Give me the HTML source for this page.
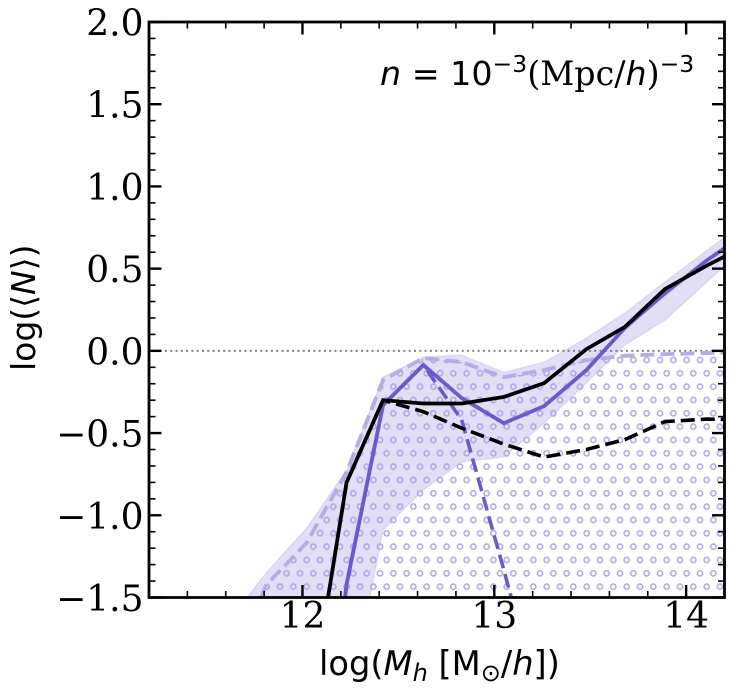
<!DOCTYPE html>
<html lang="en">
<head>
<meta charset="utf-8">
<title>Halo occupation chart</title>
<style>
html,body{margin:0;padding:0;background:#fff;width:732px;height:693px;overflow:hidden}
svg{display:block}
.tick{font-family:"DejaVu Serif","Liberation Serif",serif;font-size:36px;fill:#000}
.lab{font-family:"DejaVu Sans","Liberation Sans",sans-serif;font-size:33.7px;fill:#000}
.ann{font-family:"DejaVu Sans","Liberation Sans",sans-serif;font-size:33.3px;fill:#000}
.ser{font-family:"DejaVu Serif","Liberation Serif",serif}
</style>
</head>
<body>
<svg id="chart" xmlns="http://www.w3.org/2000/svg" width="732" height="693" viewBox="0 0 732 693">
  <defs>
    <clipPath id="axes-clip"><rect x="149" y="22" width="575.5" height="575.5"/></clipPath>
    <pattern id="circle-hatch" patternUnits="userSpaceOnUse" x="260" y="580" width="13.333" height="26.667">
      <circle cx="6.667" cy="6.667" r="2.6" fill="none" stroke="#b0a6e6" stroke-width="1.6"/>
      <circle cx="13.333" cy="20" r="2.6" fill="none" stroke="#b0a6e6" stroke-width="1.6"/>
      <circle cx="0" cy="20" r="2.6" fill="none" stroke="#b0a6e6" stroke-width="1.6"/>
    </pattern>
  </defs>
  <g id="plot" clip-path="url(#axes-clip)"></g>
  <g id="frame"></g>
  <text class="lab" id="x-title" x="319" y="675">log(<tspan font-style="italic">M</tspan><tspan font-style="italic" font-size="24" dy="6">h</tspan><tspan dy="-6"> [M</tspan><tspan font-size="24" dy="6">⊙</tspan><tspan dy="-6">/</tspan><tspan font-style="italic">h</tspan>])</text>
  <text class="lab" id="y-title" transform="translate(35,371) rotate(-90)" style="font-size:33px">log(⟨<tspan font-style="italic">N</tspan>⟩)</text>
  <text class="ann" id="density-note" x="380" y="85"><tspan font-style="italic">n</tspan> = 10<tspan font-size="23.5" dy="-13">−3</tspan><tspan class="ser" dy="13">(Mpc/</tspan><tspan font-style="italic">h</tspan><tspan class="ser">)</tspan><tspan font-size="23.5" dy="-13">−3</tspan></text>
</svg>
<script>
const massBins = [11.6, 11.81, 12.02, 12.23, 12.42, 12.63, 12.83, 13.05, 13.26, 13.48, 13.68, 13.89, 14.11, 14.32];
const blackTotal = [null, null, -2.32, -0.80, -0.30, -0.32, -0.32, -0.28, -0.196, 0.01, 0.145, 0.376, 0.52, 0.645];
const blackCentral = [null, null, -2.32, -0.80, -0.30, -0.37, -0.47, -0.567, -0.646, -0.60, -0.54, -0.43, -0.415, -0.42];
const purpleTotal = [null, null, -3.5, -1.42, -0.33, -0.086, -0.287, -0.44, -0.336, -0.117, 0.139, 0.35, 0.552, 0.72];
const purpleCentral = [null, null, -3.5, -1.42, -0.33, -0.086, -0.42, -1.333, -2.25, -5, null, null, null, null];
const lightDashed = [-2.04, -1.425, -1.17, -0.737, -0.178, -0.044, -0.068, -0.16, -0.117, -0.056, -0.03, -0.02, -0.013, -0.007];
const bandUpper = [-1.67, -1.35, -1.08, -0.725, -0.16, -0.038, -0.025, -0.13, -0.068, 0.078, 0.23, 0.42, 0.613, 0.796];
const bandLower = [-4, -4, -3.5, -2.23, -1.09, -0.847, -0.676, -0.646, -0.44, -0.196, 0.035, 0.187, 0.42, 0.644];
const zeroLine = [0];
const xMajorTicks = [12, 13, 14];
const xTickLabels = ["12", "13", "14"];
const yMajorTicks = [-1.5, -1, -0.5, 0, 0.5, 1, 1.5, 2];
const yTickLabels = ["−1.5", "−1.0", "−0.5", "0.0", "0.5", "1.0", "1.5", "2.0"];
const xLimits = [11.2, 14.2];
const yLimits = [-1.5, 2];

const NS = "http://www.w3.org/2000/svg";
const left = 149, right = 724.5, top_ = 22, bottom = 597.5;
function xScale(v) { return left + (v - xLimits[0]) / (xLimits[1] - xLimits[0]) * (right - left); }
function yScale(v) { return bottom - (v - yLimits[0]) / (yLimits[1] - yLimits[0]) * (bottom - top_); }
function make(tag, attrs) {
  const el = document.createElementNS(NS, tag);
  for (const k in attrs) el.setAttribute(k, attrs[k]);
  return el;
}
function pixelPoints(xs, ys) {
  const out = [];
  for (let i = 0; i < xs.length; i++) {
    if (ys[i] !== null) out.push([xScale(xs[i]), yScale(ys[i])]);
  }
  return out;
}
function fmt(pts) {
  return pts.map(function (p) { return p[0].toFixed(2) + "," + p[1].toFixed(2); }).join(" ");
}
/* Clip an open polyline to the axes box (Liang-Barsky per segment) */
function clipLine(pts) {
  const out = [];
  for (let i = 0; i < pts.length - 1; i++) {
    const a = pts[i], b = pts[i + 1];
    const dx = b[0] - a[0], dy = b[1] - a[1];
    let t0 = 0, t1 = 1, ok = true;
    const tests = [[-dx, a[0] - left], [dx, right - a[0]], [-dy, a[1] - top_], [dy, bottom - a[1]]];
    tests.forEach(function (t) {
      if (t[0] === 0) { if (t[1] < 0) ok = false; return; }
      const r = t[1] / t[0];
      if (t[0] < 0) { if (r > t0) t0 = r; } else { if (r < t1) t1 = r; }
    });
    if (!ok || t0 > t1) continue;
    const p = [a[0] + t0 * dx, a[1] + t0 * dy], q = [a[0] + t1 * dx, a[1] + t1 * dy];
    if (!out.length) out.push(p);
    out.push(q);
  }
  return out;
}
/* Clip a closed polygon to the axes box (Sutherland-Hodgman) */
function clipPoly(pts) {
  const edges = [
    function (p) { return p[0] - left; },
    function (p) { return right - p[0]; },
    function (p) { return p[1] - top_; },
    function (p) { return bottom - p[1]; }
  ];
  let poly = pts;
  edges.forEach(function (f) {
    const next = [];
    for (let i = 0; i < poly.length; i++) {
      const a = poly[i], b = poly[(i + 1) % poly.length];
      const fa = f(a), fb = f(b);
      if (fa >= 0) next.push(a);
      if ((fa >= 0) !== (fb >= 0)) {
        const t = fa / (fa - fb);
        next.push([a[0] + t * (b[0] - a[0]), a[1] + t * (b[1] - a[1])]);
      }
    }
    poly = next;
  });
  return poly;
}
const plot = document.getElementById("plot");
const frame = document.getElementById("frame");

const bandPts = clipPoly(pixelPoints(massBins, bandUpper).concat(pixelPoints(massBins, bandLower).reverse()));
const band = make("polygon", { points: fmt(bandPts), fill: "#6a5acd", "fill-opacity": 0.2, stroke: "#6a5acd", "stroke-opacity": 0.12, "stroke-width": 1.5 });


plot.appendChild(band);

const hatchRaw = pixelPoints(massBins, lightDashed);
hatchRaw.push([xScale(massBins[massBins.length - 1]), bottom + 40]);
hatchRaw.push([xScale(massBins[0]), bottom + 40]);
const hatch = make("polygon", { points: fmt(clipPoly(hatchRaw)), fill: "url(#circle-hatch)", stroke: "none" });


plot.appendChild(hatch);

const zero = make("line", { x1: left, x2: right, y1: yScale(zeroLine[0]), y2: yScale(zeroLine[0]), stroke: "#808080", "stroke-width": 2, "stroke-dasharray": "2 3.3" });


plot.appendChild(zero);

const lightLine = make("polyline", { points: fmt(clipLine(pixelPoints(massBins, lightDashed))), fill: "none", stroke: "#b4ace6", "stroke-width": 3.8, "stroke-dasharray": "14 6" });


plot.appendChild(lightLine);

const purpleDash = make("polyline", { points: fmt(clipLine(pixelPoints(massBins, purpleCentral))), fill: "none", stroke: "#6a5acd", "stroke-width": 3.6, "stroke-dasharray": "14 6" });


plot.appendChild(purpleDash);

const purpleSolid = make("polyline", { points: fmt(clipLine(pixelPoints(massBins, purpleTotal))), fill: "none", stroke: "#6a5acd", "stroke-width": 3.8 });


plot.appendChild(purpleSolid);

const blackDash = make("polyline", { points: fmt(clipLine(pixelPoints(massBins, blackCentral))), fill: "none", stroke: "#000", "stroke-width": 3.6, "stroke-dasharray": "14 6" });


plot.appendChild(blackDash);

const blackSolid = make("polyline", { points: fmt(clipLine(pixelPoints(massBins, blackTotal))), fill: "none", stroke: "#000", "stroke-width": 3.7 });


plot.appendChild(blackSolid);

function tickX(v, len, w) {
  const px = xScale(v);
  const a = make("line", { x1: px, x2: px, y1: bottom, y2: bottom - len, stroke: "#000", "stroke-width": w });
  
  
  frame.appendChild(a);
  const b = make("line", { x1: px, x2: px, y1: top_, y2: top_ + len, stroke: "#000", "stroke-width": w });
  
  
  frame.appendChild(b);
}
function tickY(v, len, w) {
  const py = yScale(v);
  const a = make("line", { x1: left, x2: left + len, y1: py, y2: py, stroke: "#000", "stroke-width": w });
  
  
  frame.appendChild(a);
  const b = make("line", { x1: right, x2: right - len, y1: py, y2: py, stroke: "#000", "stroke-width": w });
  
  
  frame.appendChild(b);
}
for (let k = 1; k < 15; k++) {
  const v = 11.2 + k * 0.2;
  const isMajor = xMajorTicks.some(function (m) { return Math.abs(m - v) < 1e-6; });
  if (!isMajor) tickX(v, 6.5, 1.6);
}
for (let k = 1; k < 35; k++) {
  const v = -1.5 + k * 0.1;
  const isMajor = yMajorTicks.some(function (m) { return Math.abs(m - v) < 1e-6; });
  if (!isMajor) tickY(v, 6.5, 1.6);
}
xMajorTicks.forEach(function (v, i) {
  tickX(v, 12.5, 2.4);
  const t = make("text", { x: xScale(v), y: 628, "text-anchor": "middle", class: "tick" });
  t.textContent = xTickLabels[i];
  
  
  frame.appendChild(t);
});
yMajorTicks.forEach(function (v, i) {
  if (v > yLimits[yLimits.length - 1]) return;
  tickY(v, 12.5, 2.4);
  const t = make("text", { x: 143.5, y: yScale(v) + 13.5, "text-anchor": "end", class: "tick" });
  t.textContent = yTickLabels[i];
  
  
  frame.appendChild(t);
});
const spine = make("rect", { x: left, y: top_, width: right - left, height: bottom - top_, fill: "none", stroke: "#000", "stroke-width": 2.8 });


frame.appendChild(spine);
</script>
</body>
</html>
